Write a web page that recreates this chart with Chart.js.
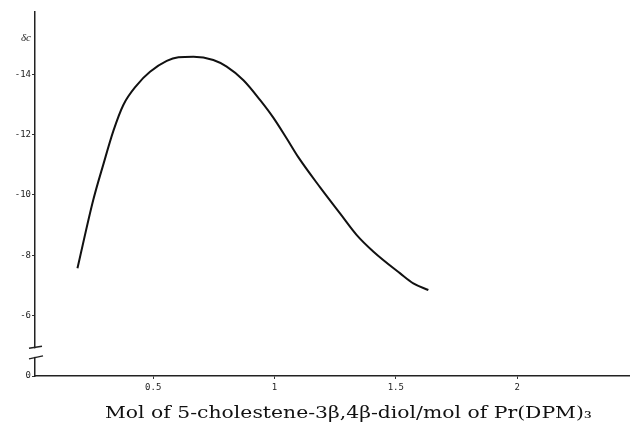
<!DOCTYPE html>
<html>
<head>
<meta charset="utf-8">
<script src="https://cdn.jsdelivr.net/npm/chart.js@4/dist/chart.umd.min.js"></script>
<style>
html, body { margin: 0; padding: 0; background: #fff; }
#wrap { width: 630px; height: 425px; }
</style>
</head>
<body>
<div id="wrap"><canvas id="shiftChart"></canvas></div>
<script>
// mol diol / mol Pr(DPM)3 against induced shift
const ratio = [0.188, 0.253, 0.295, 0.336, 0.377, 0.433, 0.487, 0.556, 0.604, 0.666, 0.748, 0.803,
               0.872, 0.941, 0.995, 1.051, 1.098, 1.188, 1.270, 1.339, 1.408, 1.518, 1.572, 1.634];
const shift = [-7.57, -9.83, -11.02, -12.12, -12.98, -13.64, -14.08, -14.44, -14.56, -14.58, -14.47, -14.25,
               -13.80, -13.14, -12.56, -11.86, -11.25, -10.25, -9.39, -8.67, -8.12, -7.40, -7.07, -6.85];

const xTicks = [0.5, 1, 1.5, 2];
const yTicks = [-6, -8, -10, -12, -14];
const yZeroAt = -4;      // bottom of the broken axis, printed as 0
const yLabelAt = -15.2;  // axis label sits in the tick column
const yAxisLabel = 'δc';
const xTitle = 'Mol of 5-cholestene-3β,4β-diol/mol of Pr(DPM)₃';

const monoFont = { family: '"DejaVu Sans Mono", monospace', size: 9 };

const breakAndTitle = {
    id: 'breakAndTitle',
    afterDraw(chart) {
        const ctx = chart.ctx;
        const ax = chart.chartArea.left;
        const yUp = chart.scales.y.getPixelForValue(-4.95);
        const yLo = chart.scales.y.getPixelForValue(-4.6);
        ctx.save();
        ctx.fillStyle = '#fff';
        ctx.fillRect(ax - 3, yUp + 1, 6, yLo - yUp - 2);
        ctx.strokeStyle = '#222';
        ctx.lineWidth = 1.5;
        ctx.beginPath();
        ctx.moveTo(ax - 6, yUp + 1); ctx.lineTo(ax + 7, yUp - 1);
        ctx.moveTo(ax - 6, yLo + 1); ctx.lineTo(ax + 8, yLo - 2);
        ctx.stroke();

        // x title, stretched a bit to the wide typeface of the original
        ctx.font = '17px "DejaVu Serif", "Liberation Serif", serif';
        ctx.fillStyle = '#111';
        ctx.textBaseline = 'alphabetic';
        ctx.textAlign = 'left';
        const w0 = ctx.measureText(xTitle).width;
        ctx.translate(105, 418);
        ctx.scale(487 / w0, 1);
        ctx.fillText(xTitle, 0, 0);
        ctx.restore();
    }
};

new Chart(document.getElementById('shiftChart').getContext('2d'), {
    type: 'line',
    data: {
        datasets: [{
            data: ratio.map((x, i) => ({ x, y: shift[i] })),
            borderColor: '#111',
            borderWidth: 2,
            pointRadius: 0,
            cubicInterpolationMode: 'monotone',
            fill: false
        }]
    },
    options: {
        responsive: true,
        maintainAspectRatio: false,
        animation: false,
        layout: { padding: { top: 12, right: 0, bottom: 0, left: 0 } },
        plugins: { legend: { display: false }, tooltip: { enabled: false } },
        scales: {
            x: {
                type: 'linear',
                min: 0.013,
                max: 2.465,
                afterFit: s => { s.height = 49; },
                afterBuildTicks: s => { s.ticks = xTicks.map(value => ({ value })); },
                border: { display: true, color: '#222', width: 1.5 },
                grid: { drawOnChartArea: false, tickLength: 3, color: '#333' },
                ticks: { font: monoFont, color: '#222', padding: 3, maxRotation: 0, autoSkip: false,
                         callback: v => String(v) }
            },
            y: {
                type: 'linear',
                reverse: true,
                min: -16.06,
                max: -4.0,
                afterFit: s => { s.width = 35; },
                afterBuildTicks: s => {
                    s.ticks = [yZeroAt, ...yTicks, yLabelAt].map(value => ({ value }));
                },
                border: { display: true, color: '#222', width: 1.5 },
                grid: {
                    drawOnChartArea: false,
                    tickLength: 3,
                    color: c => (c.tick && c.tick.value === yLabelAt) ? 'rgba(0,0,0,0)' : '#333'
                },
                ticks: {
                    color: '#222',
                    padding: 1,
                    autoSkip: false,
                    font: c => (c.tick && c.tick.value === yLabelAt)
                        ? { family: '"Liberation Serif", serif', size: 11, style: 'italic' }
                        : monoFont,
                    callback: v => v === yZeroAt ? '0' : v === yLabelAt ? yAxisLabel : String(v)
                }
            }
        }
    },
    plugins: [breakAndTitle]
});
</script>
</body>
</html>
